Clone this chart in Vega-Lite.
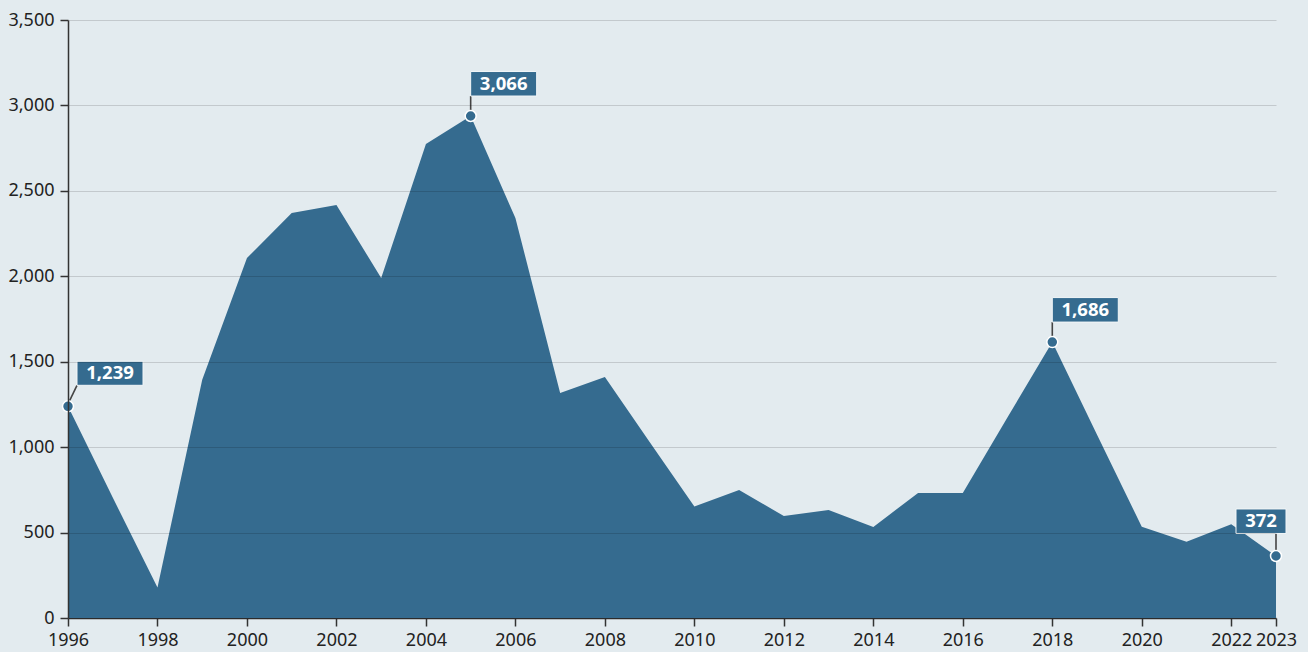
{
  "$schema": "https://vega.github.io/schema/vega-lite/v6.json",
  "autosize": "none",
  "width": 1208,
  "height": 598,
  "padding": {"left": 68, "top": 20, "right": 32, "bottom": 34},
  "background": "#e3ebef",
  "config": {
    "view": {"stroke": null},
    "font": "Noto Sans",
    "axis": {
      "labelFont": "Noto Sans",
      "labelFontSize": 18,
      "labelColor": "#222222",
      "tickColor": "#333333",
      "domainColor": "#333333",
      "tickSize": 8,
      "tickWidth": 1.5,
      "domainWidth": 1.5,
      "title": null
    }
  },
  "data": {
    "values": [
      {"year": 1996, "value": 1239, "label": "1,239"},
      {"year": 1997, "value": 705},
      {"year": 1998, "value": 178},
      {"year": 1999, "value": 1395},
      {"year": 2000, "value": 2107},
      {"year": 2001, "value": 2370},
      {"year": 2002, "value": 2417},
      {"year": 2003, "value": 1990},
      {"year": 2004, "value": 2774},
      {"year": 2005, "value": 2938, "label": "3,066"},
      {"year": 2006, "value": 2341},
      {"year": 2007, "value": 1317},
      {"year": 2008, "value": 1410},
      {"year": 2009, "value": 1030},
      {"year": 2010, "value": 653},
      {"year": 2011, "value": 749},
      {"year": 2012, "value": 597},
      {"year": 2013, "value": 632},
      {"year": 2014, "value": 533},
      {"year": 2015, "value": 732},
      {"year": 2016, "value": 732},
      {"year": 2017, "value": 1175},
      {"year": 2018, "value": 1615, "label": "1,686"},
      {"year": 2019, "value": 1072},
      {"year": 2020, "value": 534},
      {"year": 2021, "value": 447},
      {"year": 2022, "value": 548},
      {"year": 2023, "value": 363, "label": "372"}
    ]
  },
  "encoding": {
    "x": {
      "field": "year",
      "type": "quantitative",
      "scale": {"domain": [1996, 2023], "nice": false, "zero": false},
      "axis": {
        "values": [1996, 1998, 2000, 2002, 2004, 2006, 2008, 2010, 2012, 2014, 2016, 2018, 2020, 2022, 2023],
        "format": "d",
        "grid": false,
        "labelPadding": 5,
        "labelFlush": false,
        "labelOverlap": false
      }
    },
    "y": {
      "field": "value",
      "type": "quantitative",
      "scale": {"domain": [0, 3500], "nice": false},
      "axis": {
        "values": [0, 500, 1000, 1500, 2000, 2500, 3000, 3500],
        "format": ",d",
        "grid": true,
        "gridColor": "#000000",
        "gridOpacity": 0.14,
        "gridWidth": 1.2,
        "labelPadding": 6,
        "zindex": 1
      }
    }
  },
  "layer": [
    {"mark": {"type": "area", "color": "#356b8f", "opacity": 1}},
    {
      "transform": [{"filter": "datum.year == 2005 || datum.year == 2018"}],
      "mark": {"type": "point", "shape": "M0,-0.55L0,-2", "size": 400, "filled": false, "stroke": "#444444", "strokeWidth": 1.6, "opacity": 1}
    },
    {
      "transform": [{"filter": "datum.year == 1996"}],
      "mark": {"type": "point", "shape": "M0.15,-0.55L0.9,-2.1", "size": 400, "filled": false, "stroke": "#444444", "strokeWidth": 1.6, "opacity": 1}
    },
    {
      "transform": [{"filter": "datum.year == 2023"}],
      "mark": {"type": "point", "shape": "M0,-0.55L0,-2.3", "size": 400, "filled": false, "stroke": "#444444", "strokeWidth": 1.6, "opacity": 1}
    },
    {
      "transform": [{"filter": "datum.year == 2005 || datum.year == 2018"}],
      "mark": {"type": "point", "shape": "M0,-4.45L6.6,-4.45L6.6,-2L0,-2Z", "size": 400, "filled": true, "fill": "#356b8f", "stroke": "#f2f6f8", "strokeWidth": 1, "opacity": 1}
    },
    {
      "transform": [{"filter": "datum.year == 1996"}],
      "mark": {"type": "point", "shape": "M0.9,-4.5L7.5,-4.5L7.5,-2.1L0.9,-2.1Z", "size": 400, "filled": true, "fill": "#356b8f", "stroke": "#f2f6f8", "strokeWidth": 1, "opacity": 1}
    },
    {
      "transform": [{"filter": "datum.year == 2023"}],
      "mark": {"type": "point", "shape": "M-4,-4.7L1,-4.7L1,-2.25L-4,-2.25Z", "size": 400, "filled": true, "fill": "#356b8f", "stroke": "#f2f6f8", "strokeWidth": 1, "opacity": 1}
    },
    {
      "transform": [{"filter": "datum.label != null"}],
      "mark": {"type": "point", "shape": "circle", "size": 120, "filled": true, "fill": "#356b8f", "stroke": "#ffffff", "strokeWidth": 1.5, "opacity": 1}
    },
    {
      "transform": [{"filter": "datum.year == 2005 || datum.year == 2018"}],
      "mark": {"type": "text", "dx": 33, "dy": -32, "align": "center", "baseline": "middle", "fontSize": 18.5, "fontWeight": "bold", "color": "#ffffff", "font": "Noto Sans"},
      "encoding": {"text": {"field": "label"}}
    },
    {
      "transform": [{"filter": "datum.year == 1996"}],
      "mark": {"type": "text", "dx": 42, "dy": -33, "align": "center", "baseline": "middle", "fontSize": 18.5, "fontWeight": "bold", "color": "#ffffff", "font": "Noto Sans"},
      "encoding": {"text": {"field": "label"}}
    },
    {
      "transform": [{"filter": "datum.year == 2023"}],
      "mark": {"type": "text", "dx": -15, "dy": -35, "align": "center", "baseline": "middle", "fontSize": 18.5, "fontWeight": "bold", "color": "#ffffff", "font": "Noto Sans"},
      "encoding": {"text": {"field": "label"}}
    }
  ]
}
